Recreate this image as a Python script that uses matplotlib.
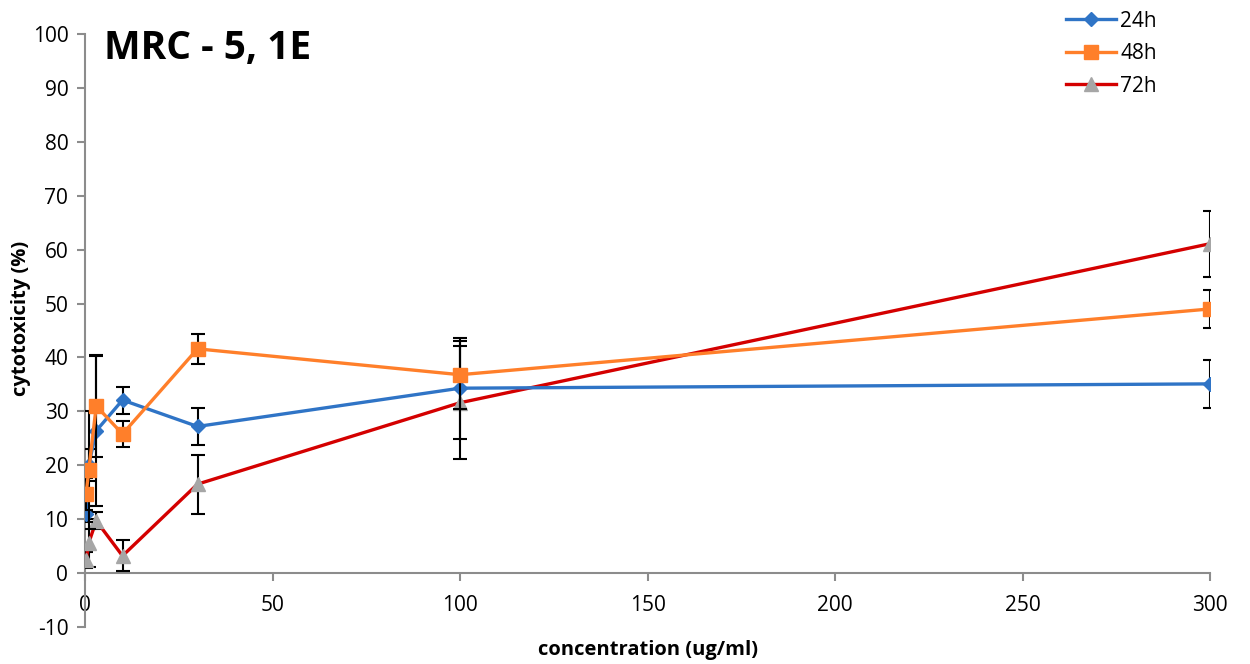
import matplotlib
matplotlib.use("Agg")
import matplotlib.pyplot as plt
from matplotlib.lines import Line2D

plt.rcParams['font.family'] = ['Open Sans', 'DejaVu Sans']
plt.rcParams['axes.unicode_minus'] = False

conc = [0.3, 1, 3, 10, 30, 100, 300]
y24 = [11.0, 20.0, 26.4, 32.1, 27.2, 34.3, 35.1]
e24 = [1.5, 3.0, 13.9, 2.5, 3.4, 9.4, 4.5]
y48 = [14.7, 19.1, 31.0, 25.8, 41.6, 36.8, 49.0]
e48 = [3.0, 11.0, 9.4, 2.4, 2.8, 6.3, 3.6]
y72 = [2.4, 5.6, 9.7, 3.2, 16.5, 31.6, 61.1]
e72 = [1.5, 4.5, 1.6, 2.9, 5.5, 10.5, 6.1]
series = ["24h", "48h", "72h"]
xticks = [0, 50, 100, 150, 200, 250, 300]
yticks = [-10, 0, 10, 20, 30, 40, 50, 60, 70, 80, 90, 100]

fig = plt.figure(figsize=(12.5, 6.64), dpi=100)
ax = fig.add_axes([0.068, 0.0557, 0.9, 0.8931])

blue = '#2F74C6'
orange = '#FF7F2A'
red = '#D40000'
grey = '#A6A6A6'

ek = dict(ecolor='black', elinewidth=1.5, capsize=5, capthick=1.5)
ax.errorbar(conc, y72, yerr=e72, color=red, lw=2.4, marker='^', ms=10,
            mfc=grey, mec=grey, zorder=3, **ek)
ax.errorbar(conc, y24, yerr=e24, color=blue, lw=2.4, marker='D', ms=7.5,
            mfc=blue, mec=blue, zorder=4, **ek)
ax.errorbar(conc, y48, yerr=e48, color=orange, lw=2.4, marker='s', ms=9.5,
            mfc=orange, mec=orange, zorder=5, **ek)

ax.set_xlim(0, 300)
ax.set_ylim(-10, 100)
ax.set_yticks(yticks)
ax.set_xticks(xticks)
ax.spines['top'].set_visible(False)
ax.spines['right'].set_visible(False)
ax.spines['left'].set_color('#8C8C8C')
ax.spines['bottom'].set_color('#8C8C8C')
ax.spines['left'].set_linewidth(1.5)
ax.spines['bottom'].set_linewidth(1.5)
ax.spines['bottom'].set_position(('data', 0))
ax.tick_params(axis='y', direction='out', length=6, width=1.5, color='#8C8C8C',
               labelsize=15, pad=6)
ax.tick_params(axis='x', direction='out', length=6, width=1.5, color='#8C8C8C',
               labelsize=15, pad=10)
ax.patch.set_alpha(0)

fig.text(0.017, 0.521, 'cytotoxicity (%)', ha='center', va='center', rotation=90,
         fontsize=14.5, fontweight='bold')
fig.text(0.518, 0.021, 'concentration (ug/ml)', ha='center', va='center',
         fontsize=14.5, fontweight='bold')
ax.text(5, 97.3, 'MRC - 5, 1E', fontsize=28, fontweight='bold', va='center', ha='left')

handles = [
    Line2D([], [], color=blue, lw=2.4, marker='D', ms=7.5, mfc=blue, mec=blue),
    Line2D([], [], color=orange, lw=2.4, marker='s', ms=9.5, mfc=orange, mec=orange),
    Line2D([], [], color=red, lw=2.4, marker='^', ms=10, mfc=grey, mec=grey),
]
fig.legend(handles, series, loc='upper left', bbox_to_anchor=(0.838, 1.012),
           frameon=False, fontsize=15, handlelength=2.4, labelspacing=0.55,
           handletextpad=0.2)

fig.savefig('out.png', dpi=100)
